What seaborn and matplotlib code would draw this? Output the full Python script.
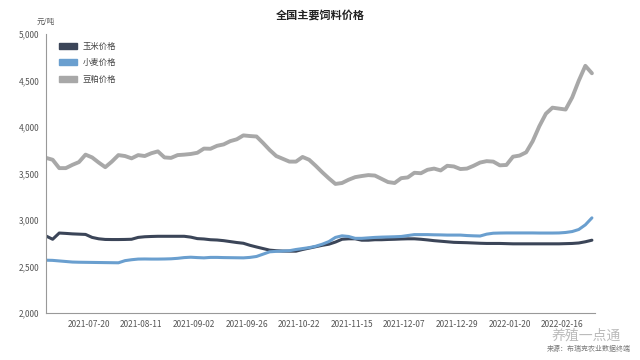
import numpy as np
import pandas as pd
import matplotlib.pyplot as plt
import matplotlib.ticker as mticker
from matplotlib.patches import Patch
import seaborn as sns

# --- data (trading-day index, sampled every 2 days) ---
days = list(range(0, 167, 2))

corn = [2830, 2795, 2862, 2858, 2853, 2850, 2847, 2815, 2800, 2793,
        2792, 2792, 2793, 2795, 2815, 2822, 2825, 2827, 2827, 2827,
        2827, 2827, 2818, 2802, 2798, 2790, 2787, 2780, 2770, 2760,
        2752, 2730, 2712, 2695, 2678, 2672, 2668, 2667, 2667, 2685,
        2700, 2715, 2730, 2742, 2765, 2795, 2800, 2800, 2785, 2785,
        2790, 2790, 2793, 2795, 2798, 2800, 2800, 2795, 2788, 2780,
        2774, 2768, 2762, 2760, 2758, 2755, 2752, 2750, 2750, 2750,
        2748, 2746, 2746, 2746, 2746, 2746, 2746, 2746, 2746, 2748,
        2750, 2755, 2768, 2785]

wheat = [2570, 2568, 2562, 2556, 2550, 2548, 2547, 2546, 2545, 2544,
         2543, 2542, 2565, 2575, 2582, 2583, 2582, 2582, 2583, 2585,
         2590, 2598, 2602, 2598, 2595, 2600, 2600, 2598, 2597, 2596,
         2595, 2600, 2610, 2635, 2660, 2665, 2668, 2672, 2685, 2695,
         2705, 2720, 2742, 2770, 2815, 2832, 2825, 2805, 2805, 2810,
         2815, 2818, 2820, 2822, 2825, 2835, 2845, 2845, 2845, 2843,
         2842, 2840, 2840, 2840, 2835, 2832, 2830, 2850, 2860, 2862,
         2863, 2863, 2863, 2863, 2863, 2862, 2862, 2862, 2863, 2868,
         2878, 2900, 2950, 3025]

meal = [3670, 3650, 3560, 3560, 3595, 3625, 3705, 3675, 3620, 3570,
        3630, 3700, 3690, 3665, 3700, 3690, 3720, 3740, 3675, 3670,
        3700, 3705, 3712, 3725, 3770, 3768, 3800, 3815, 3850, 3870,
        3912, 3905, 3900, 3830, 3755, 3690, 3660, 3630, 3630, 3680,
        3650, 3585, 3515, 3450, 3390, 3400, 3435, 3463, 3475, 3485,
        3480, 3445, 3410, 3400, 3452, 3460, 3510, 3505, 3542, 3555,
        3535, 3585, 3578, 3550, 3555, 3585, 3620, 3635, 3630, 3590,
        3594, 3683, 3695, 3730, 3850, 4010, 4145, 4210, 4200, 4190,
        4320, 4500, 4660, 4580]

tick_days = [13, 29, 45, 61, 77, 93, 109, 125, 141, 157]
tick_labels = ["2021-07-20", "2021-08-11", "2021-09-02", "2021-09-26", "2021-10-22",
               "2021-11-15", "2021-12-07", "2021-12-29", "2022-01-20", "2022-02-16"]

names = ["玉米价格", "小麦价格", "豆粕价格"]
colors = ["#3b4558", "#6a9fcf", "#a8a8a8"]
widths = [2.2, 2.2, 2.8]

sns.set_style("white")
plt.rcParams['font.family'] = ['Noto Sans CJK SC', 'DejaVu Sans']

df = pd.DataFrame({"day": days, names[0]: corn, names[1]: wheat, names[2]: meal})
long = df.melt(id_vars="day", var_name="品种", value_name="价格")

fig = plt.figure(figsize=(6.4, 3.6), dpi=100)
ax = fig.add_axes([0.072, 0.13, 0.858, 0.775])

for name, c, lw in zip(names, colors, widths):
    sns.lineplot(data=long[long["品种"] == name], x="day", y="价格",
                 color=c, linewidth=lw, ax=ax, legend=False)

ax.set_xlim(0, 167)
ax.set_ylim(2000, 5000)
ax.set_yticks([2000, 2500, 3000, 3500, 4000, 4500, 5000])
ax.yaxis.set_major_formatter(mticker.FuncFormatter(lambda v, p: f"{int(v):,}"))
ax.set_xticks(tick_days)
ax.set_xticklabels(tick_labels)
ax.set_xlabel("")
ax.set_ylabel("")
ax.tick_params(axis="both", labelsize=6, length=3, width=0.6,
               direction="out", pad=2, colors="#999999", labelcolor="#555555")
for s in ["top", "right"]:
    ax.spines[s].set_visible(False)
for s in ["left", "bottom"]:
    ax.spines[s].set_color("#999999")
    ax.spines[s].set_linewidth(0.8)

handles = [Patch(facecolor=c, edgecolor=c) for c in colors]
ax.legend(handles, names, loc="upper left", bbox_to_anchor=(0.01, 1.0),
          fontsize=6, frameon=False, handlelength=2.2, handleheight=0.7,
          labelspacing=0.9, handletextpad=0.6, labelcolor="#444444")

fig.text(0.5, 0.975, "全国主要饲料价格", ha="center", va="top",
         fontsize=8, fontweight="bold", color="#222222")
fig.text(0.072, 0.94, "元/吨", ha="center", va="center", fontsize=5.5, color="#555555")
fig.text(0.985, 0.02, "来源：布瑞克农业数据终端", ha="right", va="bottom",
         fontsize=5, color="#777777")
fig.text(0.97, 0.068, "养殖一点通", ha="right", va="center",
         fontsize=10, color="#bbbbbb")

plt.savefig("out.png", dpi=100)
plt.close()
